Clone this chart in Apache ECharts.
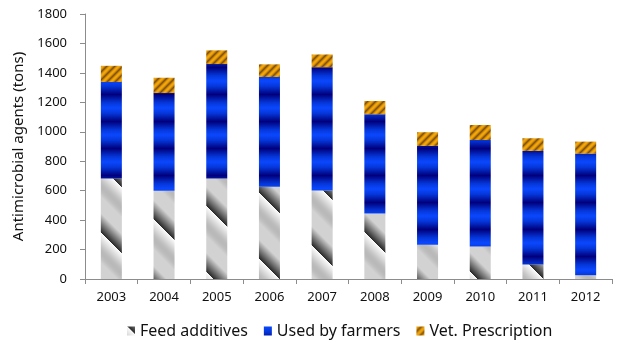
<!DOCTYPE html>
<html>
<head>
<meta charset="utf-8">
<script src="https://cdn.jsdelivr.net/npm/echarts@6/dist/echarts.min.js"></script>
<style>
  html, body { margin: 0; padding: 0; background: #fff; }
  #chart { width: 618px; height: 342px; }
</style>
</head>
<body>
<div id="chart"></div>
<script>
// Annual antimicrobial usage, split by channel (tons)
const years = ['2003', '2004', '2005', '2006', '2007', '2008', '2009', '2010', '2011', '2012'];
const feedAdditives = [682, 599, 682, 626, 601, 445, 233, 221, 99, 25];
const usedByFarmers = [656, 664, 778, 746, 838, 674, 671, 723, 771, 827];
const vetPrescription = [110, 104, 93, 86, 86, 90, 93, 102, 86, 81];
const yTicks = [0, 200, 400, 600, 800, 1000, 1200, 1400, 1600, 1800];

const FONT = '"Noto Sans", "Open Sans", sans-serif';

// Grey diagonal texture: white highlight fading to light grey, then shading to a dark edge
function greyTexture() {
  const s = 66;
  const c = document.createElement('canvas');
  c.width = s; c.height = s;
  const ctx = c.getContext('2d');
  const img = ctx.createImageData(s, s);
  for (let y = 0; y < s; y++) {
    for (let x = 0; x < s; x++) {
      const t = (((y - x) % s) + s) % s / s;
      let v;
      if (t < 0.15) v = 250 - t / 0.15 * 40;
      else if (t < 0.45) v = 210 - Math.sin((t - 0.15) / 0.3 * Math.PI) * 25;
      else if (t < 0.7) v = 210;
      else v = 210 - (t - 0.7) / 0.3 * 175;
      const i = (y * s + x) * 4;
      img.data[i] = img.data[i + 1] = img.data[i + 2] = Math.round(v);
      img.data[i + 3] = 255;
    }
  }
  ctx.putImageData(img, 0, 0);
  return c;
}

// Blue banded texture: horizontal bands alternating bright and navy
function blueTexture() {
  const h = 27;
  const c = document.createElement('canvas');
  c.width = 4; c.height = h;
  const ctx = c.getContext('2d');
  const g = ctx.createLinearGradient(0, 0, 0, h);
  g.addColorStop(0, '#0a48ff');
  g.addColorStop(0.2, '#0536d8');
  g.addColorStop(0.5, '#00007c');
  g.addColorStop(0.8, '#0536d8');
  g.addColorStop(1, '#0a48ff');
  ctx.fillStyle = g;
  ctx.fillRect(0, 0, 4, h);
  return c;
}

// Orange hatching: soft "/" stripes over an orange base
function orangeTexture() {
  const s = 8;
  const c = document.createElement('canvas');
  c.width = s; c.height = s;
  const ctx = c.getContext('2d');
  const img = ctx.createImageData(s, s);
  for (let y = 0; y < s; y++) {
    for (let x = 0; x < s; x++) {
      const t = ((x + y) % s) / s;
      const w = Math.pow(0.5 + 0.5 * Math.cos(t * 2 * Math.PI), 0.6);
      const i = (y * s + x) * 4;
      img.data[i] = Math.round(245 * w + 130 * (1 - w));
      img.data[i + 1] = Math.round(168 * w + 80 * (1 - w));
      img.data[i + 2] = Math.round(10 * w + 10 * (1 - w));
      img.data[i + 3] = 255;
    }
  }
  ctx.putImageData(img, 0, 0);
  return c;
}

const greyFill = { image: greyTexture(), repeat: 'repeat' };
const blueFill = { image: blueTexture(), repeat: 'repeat' };
const orangeFill = { image: orangeTexture(), repeat: 'repeat' };

const chart = echarts.init(document.getElementById('chart'), null, { renderer: 'canvas' });

const barCommon = { type: 'bar', stack: 'total', barWidth: 21 };

chart.setOption({
  animation: false,
  backgroundColor: '#ffffff',
  textStyle: { fontFamily: FONT },
  grid: { left: 85, right: 6, top: 14, bottom: 63, containLabel: false },
  legend: {
    top: 318,
    left: 122,
    itemWidth: 8,
    itemHeight: 9,
    itemGap: 16,
    icon: 'rect',
    textStyle: { fontFamily: FONT, fontSize: 16, color: '#111' },
    data: ['Feed additives', 'Used by farmers', 'Vet. Prescription']
  },
  xAxis: {
    type: 'category',
    data: years,
    boundaryGap: true,
    axisLine: { lineStyle: { color: '#8c8c8c', width: 1 } },
    axisTick: { show: true, length: 5, interval: 0, lineStyle: { color: '#8c8c8c' } },
    axisLabel: { fontFamily: FONT, fontSize: 13, color: '#111', margin: 12 }
  },
  yAxis: {
    type: 'value',
    min: yTicks[0],
    max: yTicks[yTicks.length - 1],
    interval: yTicks[1] - yTicks[0],
    name: 'Antimicrobial agents (tons)',
    nameLocation: 'middle',
    nameGap: 53,
    nameTextStyle: { fontFamily: FONT, fontSize: 15, color: '#111' },
    axisLine: { show: true, lineStyle: { color: '#8c8c8c', width: 1 } },
    axisTick: { show: true, length: 5, lineStyle: { color: '#8c8c8c' } },
    axisLabel: {
      fontFamily: FONT, fontSize: 13, color: '#111', margin: 18,
      formatter: (v) => String(v)
    },
    splitLine: { show: false }
  },
  series: [
    Object.assign({}, barCommon, { name: 'Feed additives', data: feedAdditives, itemStyle: { color: greyFill } }),
    Object.assign({}, barCommon, { name: 'Used by farmers', data: usedByFarmers, itemStyle: { color: blueFill } }),
    Object.assign({}, barCommon, { name: 'Vet. Prescription', data: vetPrescription, itemStyle: { color: orangeFill } })
  ]
});
</script>
</body>
</html>
